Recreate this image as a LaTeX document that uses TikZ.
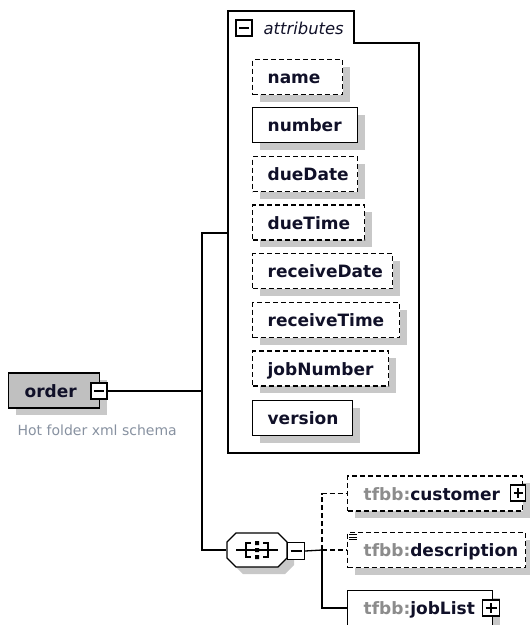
\documentclass[tikz,border=0pt]{standalone}
\usepackage{fontspec}
\setmainfont{DejaVu Sans}
\usetikzlibrary{shadows}
\definecolor{shadowgray}{RGB}{200,200,200}
\definecolor{ordergray}{RGB}{192,192,192}
\definecolor{inkc}{RGB}{16,16,40}
\definecolor{prefixc}{RGB}{140,140,140}
\definecolor{notec}{RGB}{135,145,160}
\newcommand\xbx[2]{\makebox[#1][l]{#2}}
\begin{document}
\begin{tikzpicture}[x=1pt,y=-1pt,
  line width=1.3pt,
  boxfont/.style={font=\fontsize{17}{20}\selectfont\bfseries},
  shad/.style={drop shadow={shadow xshift=7pt,shadow yshift=-7pt,opacity=1,fill=shadowgray}},
  xbox/.style={draw,fill=white,shad,boxfont,minimum height=35pt,inner ysep=0pt,inner xsep=15pt,anchor=west,text height=14pt,text depth=1pt,text=inkc},
  opt/.style={dash pattern=on 5pt off 3pt},
  icon/.style={draw,fill=white,minimum width=16pt,minimum height=16pt,inner sep=0pt},
  minusicon/.style={icon,path picture={\draw[line width=1.1pt] ([xshift=3pt]path picture bounding box.west) -- ([xshift=-3pt]path picture bounding box.east);}},
  plusicon/.style={icon,path picture={\draw[line width=1.1pt] ([xshift=3pt]path picture bounding box.west) -- ([xshift=-3pt]path picture bounding box.east);
     \draw[line width=1.1pt] ([yshift=-3pt]path picture bounding box.north) -- ([yshift=3pt]path picture bounding box.south);}},
]
\useasboundingbox (0,0) rectangle (530,625);

% attributes container
\draw (228,453) -- (228,11) -- (354,11) -- (354,43) -- (419,43) -- (419,453) -- cycle;
\coordinate (attrW) at (228,233);
\node[minusicon] (am) at (244,28) {};
\node[anchor=base west,inner sep=0pt,font=\fontsize{16.4}{19}\selectfont\itshape,text=inkc] (attrlbl) at (263,34) {attributes};

% attribute nodes
\node[xbox,opt] (a1) at (252,77) {\xbx{60pt}{name}};
\node[xbox] (a2) at (252,125) {\xbx{75pt}{number}};
\node[xbox,opt] (a3) at (252,174) {\xbx{75pt}{dueDate}};
\node[xbox,opt] (a4) at (252,222.5) {\xbx{82pt}{dueTime}};
\node[xbox,opt] (a5) at (252,271) {\xbx{110pt}{receiveDate}};
\node[xbox,opt] (a6) at (252,320) {\xbx{117pt}{receiveTime}};
\node[xbox,opt] (a7) at (252,368.5) {\xbx{106pt}{jobNumber}};
\node[xbox] (a8) at (252,418) {\xbx{70pt}{version}};

% order element
\node[xbox,fill=ordergray,inner xsep=16pt] (order) at (8,390.5) {\xbx{59pt}{order}};
\node[minusicon] (om) at (99,391) {};
\node[anchor=base west,inner sep=0pt,font=\fontsize{14}{16}\selectfont,text=notec] (note) at (17,435) {Hot folder xml schema};

% sequence compositor
\fill[shadowgray] (234,549) -- (243,540) -- (285,540) -- (294,549) -- (294,565) -- (285,574) -- (243,574) -- (234,565) -- cycle;
\draw[fill=white] (227,542) -- (236,533) -- (278,533) -- (287,542) -- (287,558) -- (278,567) -- (236,567) -- (227,558) -- cycle;
\node[minimum width=60pt,minimum height=34pt,inner sep=0pt] (seq) at (257,550) {};
\draw[line width=1.2pt] (236,550) -- (278,550);
\draw[line width=1.2pt] (251,543) -- (246,543) -- (246,557) -- (251,557);
\draw[line width=1.2pt] (263,543) -- (268,543) -- (268,557) -- (263,557);
\fill (255,541) rectangle (259,545) (255,548) rectangle (259,552) (255,555) rectangle (259,559);
\node[minusicon,minimum width=17pt,minimum height=17pt] (sm) at (296,551) {};

% child elements
\node[xbox,opt,inner xsep=16pt] (cust) at (347,493.5) {\xbx{143pt}{{\color{prefixc}tfbb:}customer}};
\node[plusicon,minimum width=15pt] (cp) at (518,493) {};
\node[xbox,opt,inner xsep=16pt] (desc) at (347,550) {\xbx{146pt}{{\color{prefixc}tfbb:}description}};
\draw[line width=0.8pt] (349,534.5) -- (357,534.5) (349,537) -- (357,537) (349,539.5) -- (357,539.5);
\node[xbox,inner xsep=16pt] (job) at (347,608) {\xbx{113pt}{{\color{prefixc}tfbb:}jobList}};
\node[plusicon,minimum width=17pt] (jp) at (491,608) {};

% connectors
\coordinate (trunk) at (202,233);
\coordinate (jn) at (322,550);
\draw (om.east) -- (om.east -| trunk);
\draw (attrW) -- (trunk) -- (trunk |- seq.west) -- (seq.west);
\draw (sm.east) -- (jn);
\draw[opt] (jn) |- (cust.west);
\draw[opt] (jn) -- (desc.west);
\draw (jn) |- (job.west);
\end{tikzpicture}
\end{document}
